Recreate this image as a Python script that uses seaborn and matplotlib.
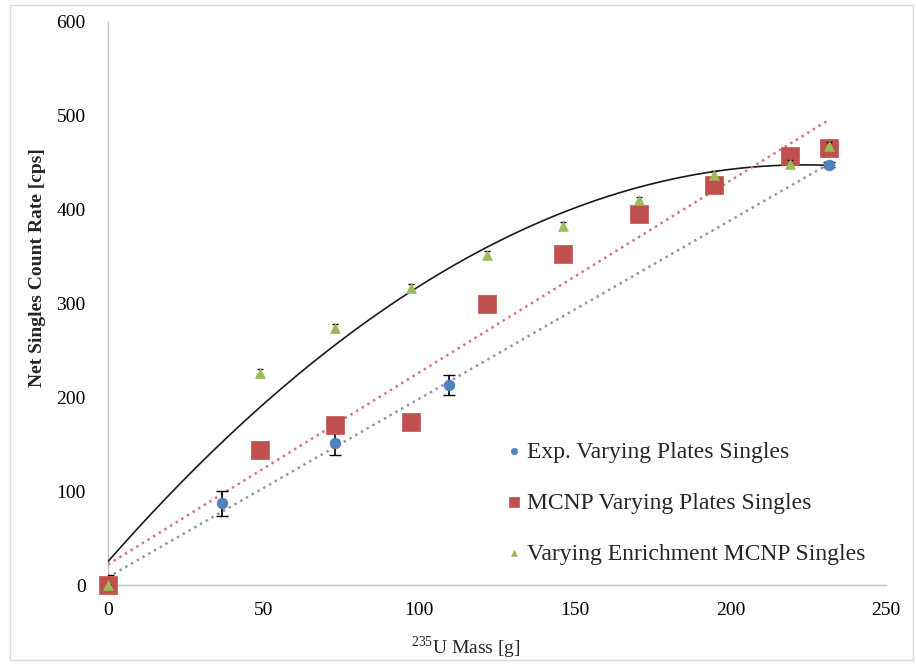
import numpy as np
import pandas as pd
import matplotlib
matplotlib.use("Agg")
import matplotlib.pyplot as plt
from matplotlib.patches import Rectangle
from matplotlib.collections import PathCollection
import seaborn as sns

# Exp. varying plates (measured)
exp_mass = [0, 36.5, 73, 109.5, 231.7]
exp_rate = [0, 87, 151, 213, 448]
exp_err = [11, 13, 12, 11, 3]

# MCNP varying plates
mcnp_mass = [0, 48.7, 73.1, 97.4, 121.8, 146.1, 170.5, 194.8, 219.2, 231.7]
mcnp_rate = [0, 144, 171, 174, 299, 353, 395, 426, 457, 466]

# Varying enrichment MCNP
enr_mass = [0, 48.7, 73.1, 97.4, 121.8, 146.1, 170.5, 194.8, 219.2, 231.7]
enr_rate = [0, 226, 274, 317, 352, 383, 410, 437, 449, 468]
enr_err = [0, 4, 4, 4, 4, 4, 4, 4, 4, 4]

# black polynomial trendline (a + b x + c x^2) as shown on the chart
poly_coef = [25.0, 3.78, -0.00845]

exp_df = pd.DataFrame({"mass": exp_mass, "rate": exp_rate})
mcnp_df = pd.DataFrame({"mass": mcnp_mass, "rate": mcnp_rate})
enr_df = pd.DataFrame({"mass": enr_mass, "rate": enr_rate})

sns.set_style("white")
plt.rcParams['font.family'] = ['Liberation Serif', 'DejaVu Serif']
plt.rcParams['mathtext.fontset'] = 'custom'
plt.rcParams['mathtext.rm'] = 'Liberation Serif'

blue = '#4F81BD'
red = '#C0504D'
green = '#9BBB59'

fig = plt.figure(figsize=(9.16, 6.65), dpi=100)
ax = fig.add_axes([108 / 916, 1 - 585 / 665, 778 / 916, 563 / 665])

# trendlines
xs = np.linspace(0, max(exp_mass), 200)
ys = poly_coef[0] + poly_coef[1] * xs + poly_coef[2] * xs ** 2
sns.lineplot(x=xs, y=ys, color='#1a1a1a', linewidth=1.2, ax=ax, zorder=2)
sns.regplot(data=mcnp_df, x='mass', y='rate', scatter=False, ci=None, ax=ax,
            line_kws=dict(color='#d9737a', linestyle=':', linewidth=1.8, zorder=2))
sns.regplot(data=exp_df, x='mass', y='rate', scatter=False, ci=None, ax=ax,
            line_kws=dict(color='#8f97aa', linestyle=':', linewidth=1.8, zorder=2))

# error bars
ax.errorbar(exp_mass, exp_rate, yerr=exp_err, fmt='none', ecolor='black',
            elinewidth=1.2, capsize=4, zorder=3)
ax.errorbar(enr_mass, enr_rate, yerr=enr_err, fmt='none', ecolor='black',
            elinewidth=1.0, capsize=2.5, zorder=5)

sns.scatterplot(data=exp_df, x='mass', y='rate', marker='o', s=60, color=blue,
                edgecolor=blue, linewidth=0.5, ax=ax, zorder=4,
                label='Exp. Varying Plates Singles')
sns.scatterplot(data=mcnp_df, x='mass', y='rate', marker='s', s=150, color=red,
                edgecolor=red, linewidth=0.5, ax=ax, zorder=4,
                label='MCNP Varying Plates Singles')
sns.scatterplot(data=enr_df, x='mass', y='rate', marker='^', s=50, color=green,
                edgecolor=green, linewidth=0.5, ax=ax, zorder=6,
                label='Varying Enrichment MCNP Singles')

# markers at the origin are not cut by the axes
for coll in ax.collections:
    if isinstance(coll, PathCollection):
        coll.set_clip_on(False)

ax.set_xlim(0, 250)
ax.set_ylim(0, 600)
ax.set_xticks(range(0, 251, 50))
ax.set_yticks(range(0, 601, 100))
ax.tick_params(axis='both', length=0, labelsize=14, colors='black')
ax.tick_params(axis='x', pad=12)
ax.tick_params(axis='y', pad=16)

for side in ['top', 'right']:
    ax.spines[side].set_visible(False)
for side in ['left', 'bottom']:
    ax.spines[side].set_color('#bfbfbf')
    ax.spines[side].set_linewidth(1.0)
    ax.spines[side].set_zorder(1)

ax.set_ylabel('Net Singles Count Rate [cps]', fontsize=14, fontweight='bold')
ax.set_xlabel(r'$^{235}$U Mass [g]', fontsize=14)
ax.yaxis.set_label_coords(-0.080, 0.563)
ax.xaxis.set_label_coords(0.46, -0.112)
ax.xaxis.label.set_verticalalignment('center')

leg = ax.legend(loc='center left', bbox_to_anchor=(0.513, 0.146), frameon=False,
                fontsize=17, labelspacing=1.25, handlelength=0.6,
                handletextpad=0.25, borderpad=0, borderaxespad=0,
                markerscale=0.6)

fig.patches.append(Rectangle((10 / 916, 5 / 665), 903 / 916, 655 / 665,
                             transform=fig.transFigure, fill=False,
                             edgecolor='#d9d9d9', linewidth=1.0))

fig.savefig('out.png', dpi=100)
